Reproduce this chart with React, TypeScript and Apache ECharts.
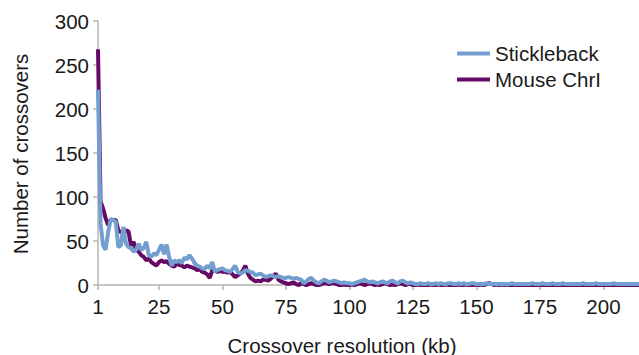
import React, { useEffect, useRef } from "react";
import * as echarts from "echarts";

const seriesNames = ["Stickleback", "Mouse ChrI"];

const stickleback: number[] = [
  222, 70, 45, 40, 60, 75, 74, 72, 43, 45,
  66, 47, 43, 42, 38, 40, 47, 40, 42, 49,
  34, 32, 36, 34, 40, 46, 35, 46, 32, 22,
  28, 26, 28, 25, 31, 29, 34, 30, 25, 22,
  21, 19, 18, 22, 19, 26, 15, 17, 18, 19,
  17, 16, 15, 18, 22, 15, 13, 14, 17, 16,
  15, 14, 11, 12, 13, 11, 9, 10, 11, 10,
  9, 10, 9, 8, 8, 9, 8, 7, 8, 7,
  6, 2, 4, 7, 8, 5, 3, 2, 4, 6,
  5, 3, 4, 5, 4, 3, 2, 3, 2, 2,
  1, 2, 3, 4, 5, 6, 4, 3, 4, 3,
  2, 3, 4, 3, 2, 4, 5, 3, 2, 4,
  5, 3, 2, 3, 2, 1, 1, 2, 1, 1,
  2, 1, 1, 2, 1, 2, 1, 1, 2, 2,
  1, 1, 2, 1, 2, 1, 1, 2, 2, 1,
  1, 1, 1, 2, 1, 1, 1, 1, 1, 1,
  1, 1, 1, 2, 1, 1, 1, 1, 1, 1,
  1, 2, 1, 1, 1, 2, 1, 1, 1, 2,
  1, 1, 1, 2, 1, 1, 1, 1, 1, 1,
  1, 2, 1, 1, 1, 1, 2, 1, 1, 1,
  1, 1, 1, 2, 1, 1, 1, 1, 1, 1,
  1, 1, 1, 1,
];

const mouseChrI: number[] = [
  268, 95, 87, 76, 68, 74, 74, 74, 62, 60,
  59, 62, 61, 45, 49, 40, 38, 34, 32, 28,
  30, 26, 24, 22, 26, 28, 26, 27, 24, 22,
  21, 24, 23, 22, 20, 22, 21, 20, 19, 17,
  18, 15, 14, 12, 8, 17, 16, 15, 16, 15,
  15, 14, 15, 12, 9, 11, 13, 16, 22, 13,
  8, 6, 4, 5, 4, 6, 6, 5, 7, 10,
  13, 6, 4, 3, 2, 1, 2, 3, 1, 0,
  2, 1, 0, 1, 2, 1, 0, 0, 1, 2,
  2, 1, 2, 2, 1, 0, 0, 1, 0, 0,
  1, 0, 1, 2, 1, 0, 1, 2, 1, 0,
  1, 0, 1, 2, 1, 0, 1, 0, 1, 2,
  1, 0, 1, 1, 0, 0, 1, 0, 0, 0,
  0, 1, 0, 0, 1, 0, 0, 1, 0, 0,
  0, 0, 1, 0, 0, 1, 0, 0, 0, 1,
  0, 1, 0, 1, 2, 1, 0, 1, 0, 1,
  0, 1, 0, 0, 0, 0, 0, 0, 0, 0,
  0, 0, 0, 0, 0, 0, 0, 0, 0, 0,
  0, 0, 0, 0, 0, 0, 0, 0, 0, 0,
  0, 0, 0, 0, 0, 0, 0, 0, 0, 0,
  0, 0, 0, 0, 0, 0, 0, 0, 0, 0,
  0, 0, 0, 0,
];

const categories: string[] = stickleback.map((_, i) => String(i + 1));
const xTickLabels = ["1", "25", "50", "75", "100", "125", "150", "175", "200"];
const yTicks = { min: 0, max: 300, interval: 50 };

const xTitle = "Crossover resolution (kb)";
const yTitle = "Number of crossovers";

const FONT = "Liberation Sans, Arial, sans-serif";
const FS = 20.5;

export default function App() {
  const ref = useRef<HTMLDivElement>(null);
  useEffect(() => {
    if (!ref.current) return;
    const chart = echarts.init(ref.current, null, { renderer: "svg" });
    const showIdx = (i: number) => xTickLabels.includes(categories[i]);
    chart.setOption({
      animation: false,
      textStyle: { fontFamily: FONT },
      grid: { left: 98, right: 0, top: 21, bottom: 70, containLabel: false },
      legend: {
        data: seriesNames.map((n) => ({ name: n, icon: "rect" })),
        orient: "vertical",
        left: 457,
        top: 43,
        padding: 0,
        itemWidth: 33,
        itemHeight: 4,
        itemGap: 5,
        textStyle: { fontSize: FS, color: "#1a1a1a", fontFamily: FONT },
      },
      xAxis: {
        type: "category",
        data: categories,
        boundaryGap: false,
        axisLine: { lineStyle: { color: "#b3b3b3", width: 1.5 } },
        axisTick: {
          show: true,
          interval: (i: number) => showIdx(i),
          length: 5,
          lineStyle: { color: "#b3b3b3", width: 1.5 },
        },
        axisLabel: {
          interval: (i: number) => showIdx(i),
          fontSize: FS,
          color: "#1a1a1a",
          margin: 11,
          fontFamily: FONT,
        },
        splitLine: { show: false },
      },
      yAxis: {
        type: "value",
        min: yTicks.min,
        max: yTicks.max,
        interval: yTicks.interval,
        axisLine: { show: true, lineStyle: { color: "#b3b3b3", width: 1.5 } },
        axisTick: { show: true, length: 5, lineStyle: { color: "#b3b3b3", width: 1.5 } },
        axisLabel: { fontSize: FS, color: "#1a1a1a", margin: 9, fontFamily: FONT },
        splitLine: { show: false },
      },
      graphic: [
        {
          type: "text",
          x: 342,
          y: 345,
          style: {
            text: xTitle,
            fontSize: FS,
            fontFamily: FONT,
            fill: "#1a1a1a",
            align: "center",
            verticalAlign: "middle",
          },
        },
        {
          type: "text",
          x: 20,
          y: 154,
          rotation: Math.PI / 2,
          style: {
            text: yTitle,
            fontSize: FS,
            fontFamily: FONT,
            fill: "#1a1a1a",
            align: "center",
            verticalAlign: "middle",
          },
        },
      ],
      series: [
        {
          name: seriesNames[1],
          type: "line",
          data: mouseChrI,
          symbol: "none",
          lineStyle: { color: "#660a66", width: 4 },
          itemStyle: { color: "#660a66" },
          z: 2,
        },
        {
          name: seriesNames[0],
          type: "line",
          data: stickleback,
          symbol: "none",
          lineStyle: { color: "#729fcf", width: 4 },
          itemStyle: { color: "#729fcf" },
          z: 3,
        },
      ],
    });
    return () => chart.dispose();
  }, []);
  return <div ref={ref} style={{ width: 639, height: 355, position: "absolute", left: 0, top: 0 }} />;
}
